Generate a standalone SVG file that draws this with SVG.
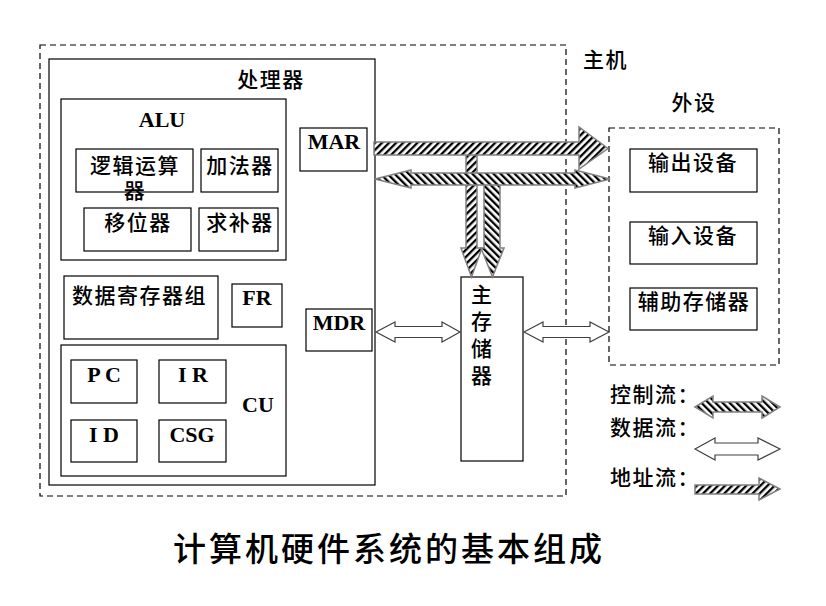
<svg xmlns="http://www.w3.org/2000/svg" width="826" height="606" viewBox="0 0 826 606">
<defs>
<pattern id="hatchF" patternUnits="userSpaceOnUse" width="5" height="5" patternTransform="rotate(45)">
<rect width="5" height="5" fill="#fff"/>
<rect width="2.3" height="5" fill="#000"/>
</pattern>
<pattern id="hatchB" patternUnits="userSpaceOnUse" width="5" height="5" patternTransform="rotate(-45)">
<rect width="5" height="5" fill="#fff"/>
<rect width="2.3" height="5" fill="#000"/>
</pattern>
<style>
.box{fill:#fff;stroke:#000;stroke-width:1.2}
.dash{fill:none;stroke:#000;stroke-width:1.2;stroke-dasharray:6 4}
.cn{font-family:"Noto Sans CJK SC","Noto Sans CJK JP",sans-serif;font-size:21px;font-weight:500;fill:#000;letter-spacing:1.5px}
.en{font-family:"Liberation Serif","Times New Roman",serif;font-size:22px;font-weight:bold;fill:#000}
.mid{text-anchor:middle}
.addr{fill:url(#hatchF);stroke:#808080;stroke-width:1.5}
.ctrl{fill:url(#hatchB);stroke:#808080;stroke-width:1.5}
.data{fill:#fff;stroke:#404040;stroke-width:1.2}
</style>
</defs>
<rect width="826" height="606" fill="#fff"/>

<g id="host">
<rect class="dash" x="40" y="45" width="526" height="451"/>
<text class="cn" x="583" y="67">主机</text>
</g>

<g id="processor">
<rect class="box" x="49" y="59" width="326" height="426"/>
<text class="cn mid" x="271" y="87">处理器</text>
</g>

<g id="alu">
<rect class="box" x="61" y="99" width="225" height="161"/>
<text class="en mid" x="162" y="127">ALU</text>
</g>
<g id="logic">
<rect class="box" x="76" y="149" width="117" height="43"/>
<text class="cn mid" x="135" y="173">逻辑运算</text>
<text class="cn mid" x="135" y="198">器</text>
</g>
<g id="adder">
<rect class="box" x="201" y="149" width="77" height="43"/>
<text class="cn mid" x="240" y="173">加法器</text>
</g>
<g id="shifter">
<rect class="box" x="84" y="208" width="107" height="43"/>
<text class="cn mid" x="138" y="230">移位器</text>
</g>
<g id="complement">
<rect class="box" x="199" y="208" width="79" height="43"/>
<text class="cn mid" x="240" y="230">求补器</text>
</g>
<g id="mar">
<rect class="box" x="300" y="128" width="67" height="43"/>
<text class="en mid" x="334" y="149">MAR</text>
</g>
<g id="regs">
<rect class="box" x="64" y="276" width="154" height="63"/>
<text class="cn" x="72" y="303">数据寄存器组</text>
</g>
<g id="fr">
<rect class="box" x="232" y="284" width="50" height="43"/>
<text class="en mid" x="257" y="305">FR</text>
</g>
<g id="mdr">
<rect class="box" x="306" y="309" width="66" height="42"/>
<text class="en mid" x="339" y="330">MDR</text>
</g>
<g id="cu">
<rect class="box" x="61" y="345" width="225" height="131"/>
<text class="en mid" x="258" y="412">CU</text>
</g>
<g id="pc">
<rect class="box" x="71" y="360" width="66" height="43"/>
<text class="en mid" x="104" y="382">P C</text>
</g>
<g id="ir">
<rect class="box" x="159" y="360" width="67" height="43"/>
<text class="en mid" x="193" y="382">I R</text>
</g>
<g id="id">
<rect class="box" x="71" y="420" width="66" height="42"/>
<text class="en mid" x="104" y="442">I D</text>
</g>
<g id="csg">
<rect class="box" x="159" y="420" width="67" height="42"/>
<text class="en mid" x="192" y="442">CSG</text>
</g>

<g id="memory">
<rect class="box" x="461" y="277" width="62" height="184"/>
<text class="cn" x="471" y="302">主</text>
<text class="cn" x="471" y="329">存</text>
<text class="cn" x="471" y="356">储</text>
<text class="cn" x="471" y="383">器</text>
</g>

<g id="peripherals">
<rect class="dash" x="609" y="128" width="170" height="237"/>
<text class="cn mid" x="694" y="110">外设</text>
</g>
<g id="output">
<rect class="box" x="630" y="149" width="127" height="43"/>
<text class="cn mid" x="693" y="170">输出设备</text>
</g>
<g id="input">
<rect class="box" x="630" y="222" width="127" height="42"/>
<text class="cn mid" x="693" y="243">输入设备</text>
</g>
<g id="aux">
<rect class="box" x="630" y="288" width="127" height="42"/>
<text class="cn mid" x="694" y="309">辅助存储器</text>
</g>

<g id="connectors">
<polygon class="addr" points="466,150 477,150 477,248 482,248 471.5,277 461,248 466,248"/>
<polygon class="ctrl" points="484,180 500,180 500,248 504,248 492.5,277 481,248 484,248"/>
<polygon class="addr" points="374,142 579,142 579,127 608,148.5 579,169 579,155 374,155"/>
<polygon class="ctrl" points="375,179 411,170 411,173 575,173 575,170 610,179 575,188 575,185 411,185 411,188"/>
<polygon class="data" points="376,332 395,322 395,326.5 442,326.5 442,322 460,332 442,342 442,337.5 395,337.5 395,342"/>
<polygon class="data" points="524,332 543,322 543,326.5 590,326.5 590,322 609,332 590,342 590,337.5 543,337.5 543,342"/>
</g>

<g id="legend">
<text class="cn" x="610" y="402">控制流：</text>
<polygon class="ctrl" points="695,407 713,396 713,402 762,402 762,396 780,407 762,418 762,412 713,412 713,418"/>
<text class="cn" x="610" y="435">数据流：</text>
<polygon class="data" points="695,449 715,438 715,443 758,443 758,438 780,449 758,460 758,455 715,455 715,460"/>
<text class="cn" x="610" y="485">地址流：</text>
<polygon class="addr" points="695,485 759,485 759,478 780,489 759,500 759,494 695,494"/>
</g>

<g id="title">
<text class="cn" x="173" y="561" style="font-size:33px;letter-spacing:3px">计算机硬件系统的基本组成</text>
</g>
</svg>
